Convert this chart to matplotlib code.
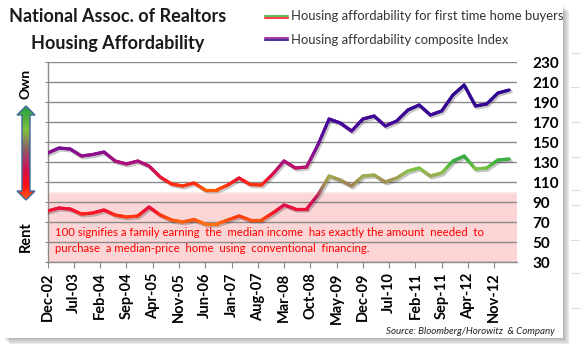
import numpy as np
import matplotlib
matplotlib.use('Agg')
import matplotlib.pyplot as plt
from matplotlib.collections import LineCollection
from matplotlib.colors import LinearSegmentedColormap
from matplotlib.patches import Polygon, Rectangle
from matplotlib.lines import Line2D
from matplotlib import transforms

# ---------------- data ----------------
tick_labels = ["Dec-02", "Jul-03", "Feb-04", "Sep-04", "Apr-05", "Nov-05", "Jun-06",
               "Jan-07", "Aug-07", "Mar-08", "Oct-08", "May-09", "Dec-09", "Jul-10",
               "Feb-11", "Sep-11", "Apr-12", "Nov-12"]
composite = [139, 144, 143, 136, 137.5, 140, 131, 128, 131, 126, 115, 108, 106, 109,
             102, 102, 107, 114, 107.5, 107, 118, 131, 124, 125, 147, 173, 169, 161,
             173, 176, 166, 171, 182, 187, 177, 181, 197, 207, 186, 188, 199, 202]
first_time = [81, 84, 83, 78, 79, 82, 77, 75, 76, 85, 77, 72, 70, 72.5,
              68, 68, 72, 76, 72, 72, 79, 87, 83, 83, 97, 116, 112, 106,
              116, 117, 110, 114, 121, 124, 116, 119, 131, 136, 123, 124, 132, 133]
y_ticks = [30, 50, 70, 90, 110, 130, 150, 170, 190, 210, 230]
series_names = ["Housing affordability for first time home buyers",
                "Housing affordability composite Index"]

months = np.arange(len(composite)) * 3
tick_pos = np.arange(len(tick_labels)) * 7

W, H = 580, 356
FONT = ['Lato', 'DejaVu Sans']
plt.rcParams['font.family'] = FONT

fig = plt.figure(figsize=(W / 100, H / 100), dpi=100)
ov = fig.add_axes([0, 0, 1, 1], zorder=0)
ov.set_xlim(0, W)
ov.set_ylim(H, 0)
ov.axis('off')

# chart frame shadow
for i in range(7):
    ov.add_patch(Rectangle((4 + i * 0.9, 6 + i * 0.9), 560, 333, facecolor='#000000',
                           alpha=0.045, edgecolor='none', zorder=0))
ov.add_patch(Rectangle((0, 0), 563, 338, facecolor='white', edgecolor='none', zorder=1))
# faint sheet cell gridlines outside the chart
for xg in [55, 108, 163, 217, 272, 325, 378, 433, 487, 540]:
    ov.plot([xg, xg], [0, 3], color='#dcdcdc', lw=0.8, zorder=0.5)
for yg in [53, 87, 122, 157, 190, 205, 240, 273, 308]:
    ov.plot([571, 580], [yg, yg], color='#dcdcdc', lw=0.8, zorder=0.5)

# main axes
x0, x1, yt, yb = 47.7, 516.7, 62, 262
ax = fig.add_axes([x0 / W, 1 - yb / H, (x1 - x0) / W, (yb - yt) / H], zorder=2)
ax.set_facecolor('none')
ax.set_xlim(0, 125)
ax.set_ylim(30, 230)
ax.set_axisbelow(True)
ax.grid(axis='y', color='#8a8a8a', lw=1.0)
ax.axhspan(30, 98, color='#fcd6d6', zorder=0.2, lw=0)
ax.axhspan(98, 100, color='#fde6e6', zorder=0.2, lw=0)
for s in ['top', 'right']:
    ax.spines[s].set_visible(False)
for s in ['left', 'bottom']:
    ax.spines[s].set_color('#8a8a8a')
    ax.spines[s].set_linewidth(1.0)
ax.set_yticks(y_ticks)
ax.set_yticklabels([str(v) for v in y_ticks])
ax.tick_params(axis='y', left=True, right=False, labelleft=False, labelright=True,
               length=2.5, color='#8a8a8a', pad=8.5, labelsize=11)
for lab in ax.get_yticklabels():
    lab.set_fontweight('bold')
ax.set_xticks(tick_pos)
ax.set_xticklabels(tick_labels, rotation=90, fontweight='bold', fontsize=10.5)
ax.tick_params(axis='x', length=4.5, color='#8a8a8a', pad=3)


def grad_line(ax, x, y, stops, lw=2.3):
    vals = [s[0] for s in stops]
    vmin, vmax = min(vals), max(vals)
    cmap = LinearSegmentedColormap.from_list(
        'g', [((v - vmin) / (vmax - vmin), c) for v, c in stops])
    x = np.asarray(x, float)
    y = np.asarray(y, float)
    segs, cols = [], []
    for i in range(len(x) - 1):
        t = np.linspace(0, 1, 9)
        xs = x[i] + (x[i + 1] - x[i]) * t
        ys = y[i] + (y[i + 1] - y[i]) * t
        for j in range(len(t) - 1):
            segs.append([(xs[j], ys[j]), (xs[j + 1], ys[j + 1])])
            m = 0.5 * (ys[j] + ys[j + 1])
            cols.append(cmap(np.clip((m - vmin) / (vmax - vmin), 0, 1)))
    # shadow
    off = transforms.offset_copy(ax.transData, fig=ax.figure, x=1.5, y=-1.8, units='dots')
    ax.plot(x, y, transform=off, color='#000000', alpha=0.22, lw=lw + 0.3,
            solid_joinstyle='round', zorder=3)
    lc = LineCollection(segs, colors=cols, linewidths=lw, capstyle='round', zorder=4)
    ax.add_collection(lc)


comp_stops = [(100, '#ff6a00'), (108, '#ff2a14'), (115, '#e8103c'), (128, '#b0107a'),
              (140, '#861090'), (160, '#52089a'), (180, '#3a0896'), (210, '#2a0a8c')]
first_stops = [(68, '#ff7010'), (75, '#ff3c10'), (80, '#f81428'), (86, '#e0104a'),
               (95, '#c01060'), (105, '#a07a58'), (115, '#a0a450'), (122, '#88c448'),
               (130, '#44b440'), (137, '#30a840')]
grad_line(ax, months, composite, comp_stops)
grad_line(ax, months, first_time, first_stops)

# band annotation (drawn in main axes so it sits above the band)
ax.text(55, 233, "100 signifies a family earning  the  median income  has exactly the amount  needed  to",
        color='#ff0000', fontsize=8.2, va='center', ha='left', zorder=5,
        transform=ov.transData, clip_on=False)
ax.text(55, 249, "purchase  a median-price  home  using  conventional  financing.",
        color='#ff0000', fontsize=8.2, va='center', ha='left', zorder=5,
        transform=ov.transData, clip_on=False)

# title
ov.text(117.5, 17, "National Assoc. of Realtors", fontsize=13, fontweight='bold',
        color='#1a1a1a', ha='center', va='center', zorder=5)
ov.text(117.5, 43, "Housing Affordability", fontsize=13, fontweight='bold',
        color='#1a1a1a', ha='center', va='center', zorder=5)

# legend
ov.add_line(Line2D([265, 288], [15.8, 15.8], color='#40b040', lw=1.2, zorder=5))
ov.add_line(Line2D([265, 288], [17.8, 17.8], color='#ff1a1a', lw=1.2, zorder=5))
ov.add_line(Line2D([265, 288], [37.8, 37.8], color='#9a1090', lw=1.2, zorder=5))
ov.add_line(Line2D([265, 288], [39.8, 39.8], color='#2a0a90', lw=1.2, zorder=5))
ov.text(291, 16.5, series_names[0], fontsize=9.4, color='#333333', ha='left', va='center', zorder=5)
ov.text(291, 40, series_names[1], fontsize=9.4, color='#333333', ha='left', va='center', zorder=5)

# source
ov.text(555, 332, "Source: Bloomberg/Horowitz  & Company", fontsize=7.0, style='italic',
        color='#222222', ha='right', va='center', zorder=5)

# Own / Rent labels
ov.text(26, 84, "Own", rotation=90, fontsize=10, fontweight='bold', ha='center', va='center', zorder=5)
ov.text(26, 237, "Rent", rotation=90, fontsize=10.5, fontweight='bold', ha='center', va='center', zorder=5)

# gradient double arrow
cx, top, bot = 26, 106, 200
hw, sw, hh = 9, 4, 9
pts = [(cx, top), (cx + hw, top + hh), (cx + sw, top + hh), (cx + sw, bot - hh),
       (cx + hw, bot - hh), (cx, bot), (cx - hw, bot - hh), (cx - sw, bot - hh),
       (cx - sw, top + hh), (cx - hw, top + hh)]
arrow = Polygon(pts, closed=True, facecolor='none', edgecolor='#41689c', lw=1.0, zorder=6)
ov.add_patch(arrow)
arrow_cmap = LinearSegmentedColormap.from_list(
    'a', [(0.0, '#ff6010'), (0.15, '#ff1010'), (0.32, '#d0104a'), (0.45, '#a83a6a'),
          (0.58, '#8a7060'), (0.75, '#80c040'), (1.0, '#20a040')])
grad = np.linspace(0, 1, 256).reshape(-1, 1)
im = ov.imshow(grad, cmap=arrow_cmap, extent=[cx - hw, cx + hw, bot, top], origin='lower',
               aspect='auto', zorder=5.5, interpolation='bilinear')
im.set_clip_path(Polygon(pts, closed=True, transform=ov.transData))
ov.set_xlim(0, W)
ov.set_ylim(H, 0)

fig.savefig('out.png', dpi=100)
